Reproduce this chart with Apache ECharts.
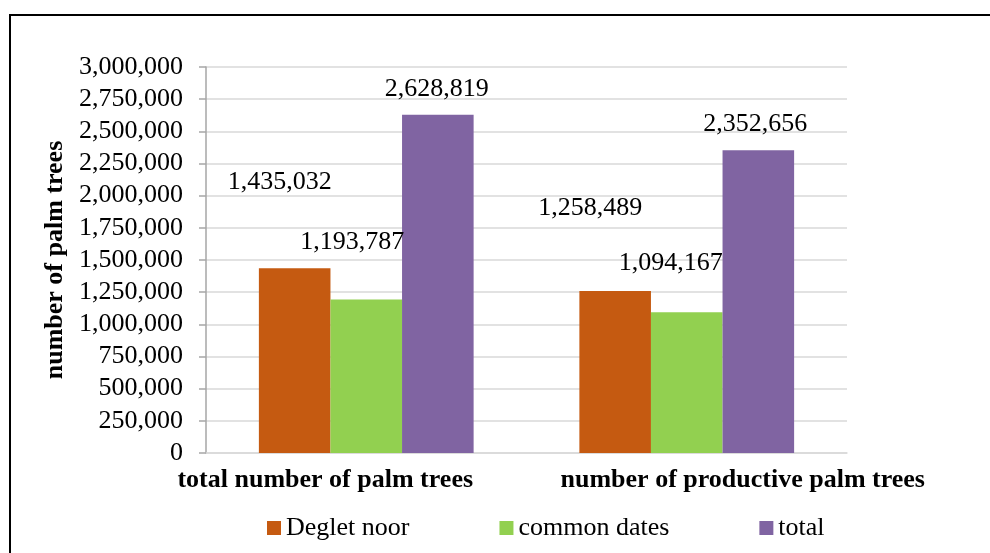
<!DOCTYPE html>
<html>
<head>
<meta charset="utf-8">
<title>Palm trees</title>
<script src="https://cdn.jsdelivr.net/npm/echarts@6/dist/echarts.min.js"></script>
<style>
  html, body { margin: 0; padding: 0; background: #fff; }
  #chart { width: 990px; height: 553px; }
</style>
</head>
<body>
<div id="chart"></div>
<script>
// Categories and series values
const categories = ['total number of palm trees', 'number of productive palm trees'];
const seriesNames = ['Deglet noor', 'common dates', 'total'];
const degletNoor = [1435032, 1258489];
const commonDates = [1193787, 1094167];
const totals = [2628819, 2352656];

// Value axis ticks
const yMin = 0;
const yMax = 3000000;
const yStep = 250000;

// Appearance
const colors = ['#C55A11', '#92D050', '#8064A2'];
const fontFamily = '"Liberation Serif", "Times New Roman", serif';
// Per-bar label nudges [dx, dy] in pixels, one list per series
const labelShift = [
  [[-15, -73], [-25, -70]],
  [[-14, -44], [-16, -36]],
  [[-1, -13], [-3, -13]]
];

const fmt = v => Number(v).toLocaleString('en-US');

function makeSeries(name, values, idx) {
  return {
    name: name,
    type: 'bar',
    barGap: 0,
    barCategoryGap: '33%',
    itemStyle: { color: colors[idx] },
    data: values.map((v, i) => ({
      value: v,
      label: { offset: labelShift[idx][i] }
    })),
    label: {
      show: true,
      position: 'top',
      distance: 0,
      color: '#000',
      fontFamily: fontFamily,
      fontSize: 26,
      formatter: p => fmt(p.value)
    }
  };
}

const catLabelStyle = {
  color: '#000',
  fontFamily: fontFamily,
  fontSize: 26,
  fontWeight: 'bold'
};

const chart = echarts.init(document.getElementById('chart'), null, { renderer: 'canvas' });
chart.setOption({
  animation: false,
  backgroundColor: '#fff',
  textStyle: { fontFamily: fontFamily },
  graphic: [{
    type: 'rect',
    shape: { x: 10, y: 15, width: 1200, height: 800 },
    style: { fill: 'none', stroke: '#000', lineWidth: 2 },
    silent: true,
    z: 100
  }],
  grid: { left: 206, right: 143, top: 67, bottom: 100, containLabel: false },
  legend: {
    left: 262,
    top: 510,
    itemWidth: 14,
    itemHeight: 14,
    itemGap: 90,
    icon: 'rect',
    textStyle: { fontFamily: fontFamily, fontSize: 26, color: '#000' },
    data: seriesNames
  },
  xAxis: {
    type: 'category',
    data: categories,
    axisLine: { lineStyle: { color: '#d9d9d9', width: 1.5 } },
    axisTick: { show: false },
    axisLabel: {
      margin: 14,
      interval: 0,
      ...catLabelStyle,
      // first label sits left of its group, second sits right
      formatter: (v, i) => (i === 0 ? '{a|' + v + '}' : '{b|' + v + '}'),
      rich: {
        a: { ...catLabelStyle, padding: [0, 82, 0, 0] },
        b: { ...catLabelStyle, padding: [0, 0, 0, 112] }
      }
    }
  },
  yAxis: {
    type: 'value',
    min: yMin,
    max: yMax,
    interval: yStep,
    name: 'number of palm trees',
    nameLocation: 'middle',
    nameGap: 137,
    nameTextStyle: { fontFamily: fontFamily, fontSize: 26, fontWeight: 'bold', color: '#000' },
    axisLine: { show: true, lineStyle: { color: '#a6a6a6', width: 1.5 } },
    axisTick: { show: true, length: 7, lineStyle: { color: '#a6a6a6', width: 1.5 } },
    axisLabel: {
      margin: 23,
      color: '#000',
      fontFamily: fontFamily,
      fontSize: 26,
      formatter: v => fmt(v)
    },
    splitLine: { lineStyle: { color: '#d9d9d9', width: 1.5 } }
  },
  series: [
    makeSeries(seriesNames[0], degletNoor, 0),
    makeSeries(seriesNames[1], commonDates, 1),
    makeSeries(seriesNames[2], totals, 2)
  ]
});
</script>
</body>
</html>
